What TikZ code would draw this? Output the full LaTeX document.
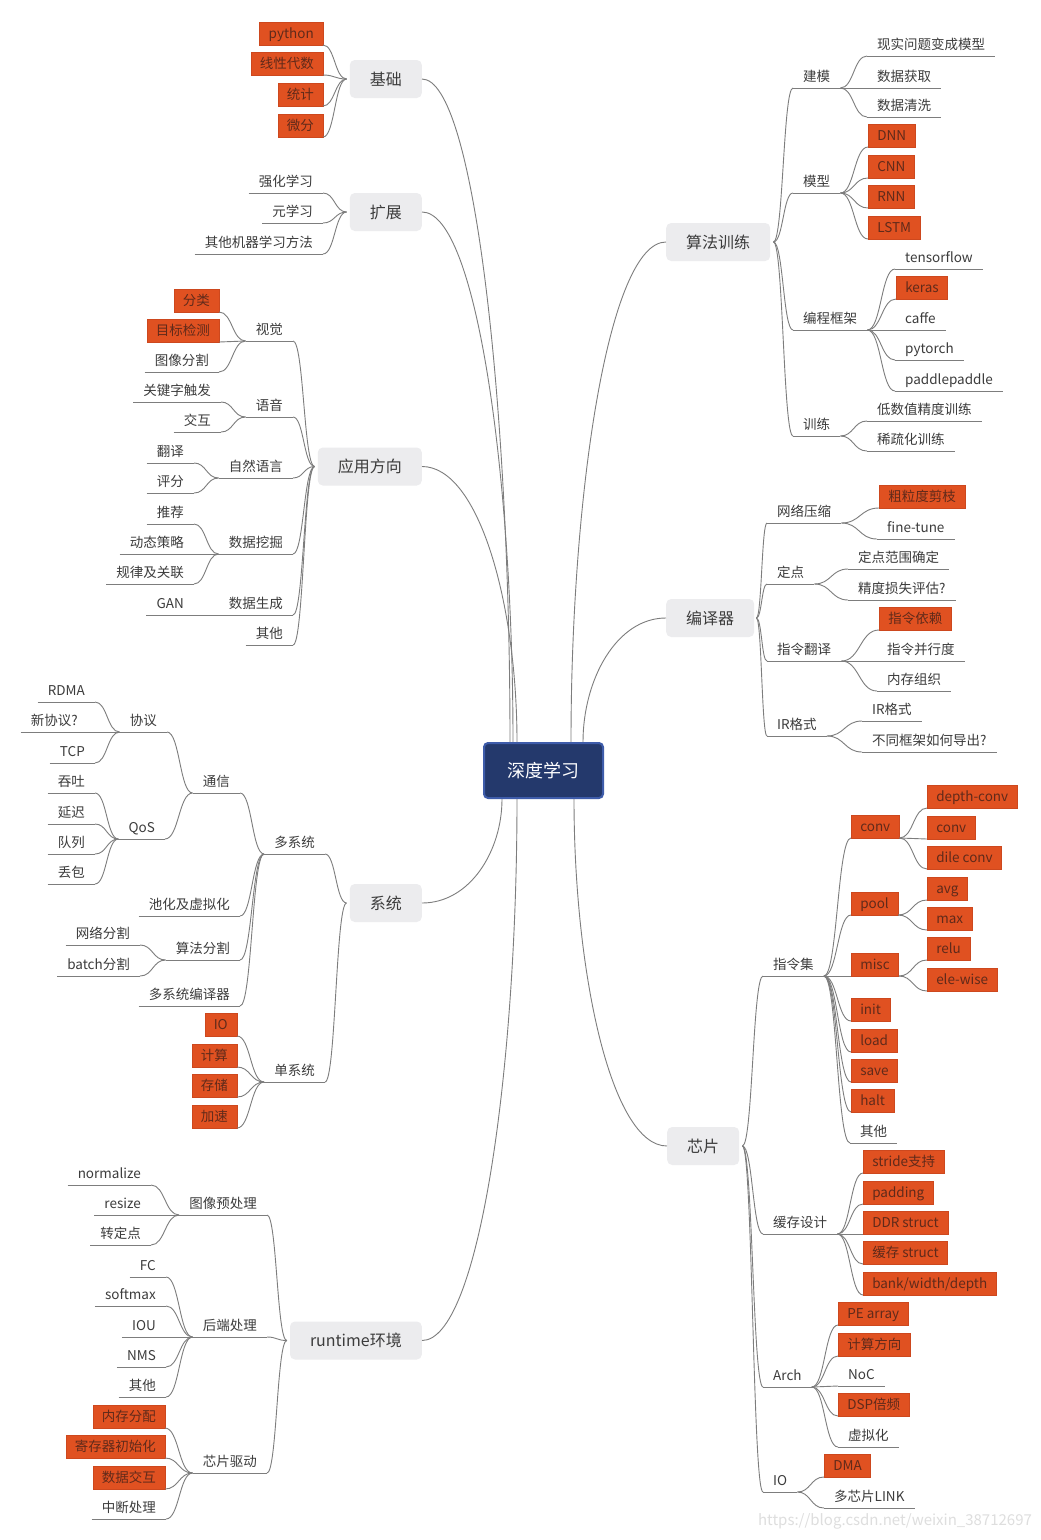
\documentclass[tikz,border=0pt]{standalone}
\usepackage{fontspec}
\setmainfont{Noto Sans CJK SC}
\usetikzlibrary{%
  calc,% wg. let in to path
  positioning%
}
\definecolor{linecol}{RGB}{125,125,125}
\definecolor{labeltext}{RGB}{60,60,60}
\definecolor{topicfill}{RGB}{236,236,238}
\definecolor{rootfill}{RGB}{36,57,108}
\definecolor{rootedge}{RGB}{62,92,170}
\definecolor{hotfill}{RGB}{224,81,33}
\definecolor{hotedge}{RGB}{205,72,30}
\definecolor{hottext}{RGB}{96,42,26}
\definecolor{markgray}{RGB}{222,222,222}

\begin{document}
\begin{tikzpicture}[x=1pt,y=-1pt,root/.style={
	rectangle,rounded corners=4pt,
	line width=2pt,draw=rootedge,fill=rootfill,
	minimum width=119pt,minimum height=55pt,
	text height=14pt,text depth=1pt,
	text=white,font=\fontsize{18}{20}\selectfont
	},topic/.style={
	rectangle,rounded corners=5pt,
	fill=topicfill,inner xsep=20pt,minimum height=38pt,
	text height=13pt,text depth=1pt,
	text=labeltext,font=\fontsize{16}{18}\selectfont
	},leaf/.style={
	inner xsep=10pt,inner ysep=4.5pt,
	text height=10pt,text depth=2pt,
	text=labeltext,font=\fontsize{13.5}{15}\selectfont,
	append after command={(\tikzlastnode.south west) edge[draw=linecol,line width=0.9pt] (\tikzlastnode.south east)}
	},hot/.style={
	rectangle,draw=hotedge,line width=0.5pt,fill=hotfill,
	inner xsep=9pt,inner ysep=0pt,minimum height=23pt,
	text height=11pt,text depth=1pt,
	text=hottext,font=\fontsize{13.5}{15}\selectfont
	},lft/.style={anchor=south east
	},rgt/.style={anchor=south west
	},wmark/.style={text=markgray,font=\fontsize{15}{17}\selectfont
	},link/.style={
	draw=linecol,line width=0.9pt,
	to path={let \p1=(\tikztostart),\p2=(\tikztotarget) in
	.. controls (\x1/2+\x2/2,\y1) and (\x1/2+\x2/2,\y2) .. (\tikztotarget)}
	},trunk/.style={
	draw=linecol,line width=0.9pt,
	to path={let \p1=(\tikztostart),\p2=(\tikztotarget) in
	.. controls (0.4*\x1+0.6*\x2,\y1) and (\x2,\y1/2+\y2/2) .. (\tikztotarget)}
	}]

\fill[white] (0,0) rectangle (1041,1540);
\useasboundingbox (0,0) rectangle (1041,1540);

% root and main topics
\node[root] (dl) at (543.5,770.5) {深度学习};
\node[topic,anchor=east] (jc) at (422,79) {基础};
\node[topic,anchor=east] (kz) at (422,212) {扩展};
\node[topic,anchor=east] (yy) at (422,466.5) {应用方向};
\node[topic,anchor=east] (xt) at (422,903) {系统};
\node[topic,anchor=east] (rt) at (422,1340.5) {runtime环境};
\node[topic,anchor=west] (sf) at (666,242) {算法训练};
\node[topic,anchor=west] (by) at (666,618) {编译器};
\node[topic,anchor=west] (xp) at (667,1146) {芯片};

\coordinate (jcj) at ([xshift=-3pt]jc.west);
\coordinate (kzj) at ([xshift=-3pt]kz.west);
\coordinate (yyj) at ([xshift=-3pt]yy.west);
\coordinate (xtj) at ([xshift=-3pt]xt.west);
\coordinate (rtj) at ([xshift=-3pt]rt.west);
\coordinate (sfj) at ([xshift=3pt]sf.east);
\coordinate (byj) at ([xshift=2pt]by.east);
\coordinate (xpj) at ([xshift=3pt]xp.east);

% 基础 / 扩展
\node[hot,lft] (py) at (323,45) {python};
\node[hot,lft] (xxds) at (323,75) {线性代数};
\node[hot,lft] (tj) at (323,106) {统计};
\node[hot,lft] (wf) at (323,137) {微分};
\node[leaf,lft] (qhxx) at (323,193) {强化学习};
\node[leaf,lft] (yxx) at (323,223) {元学习};
\node[leaf,lft] (qtjq) at (323,254) {其他机器学习方法};

% 应用方向
\node[leaf,lft] (sj) at (293,341) {视觉};
\node[leaf,lft] (yyin) at (293,417) {语音};
\node[leaf,lft] (zryy) at (293,478) {自然语言};
\node[leaf,lft] (sjwj) at (293,554) {数据挖掘};
\node[leaf,lft] (sjsc) at (293,615) {数据生成};
\node[leaf,lft] (qt1) at (293,645) {其他};
\node[hot,lft] (fl) at (219,312) {分类};
\node[hot,lft] (mbjc) at (219,342) {目标检测};
\node[leaf,lft] (txfg) at (219,372) {图像分割};
\node[leaf,lft] (gjz) at (221,402) {关键字触发};
\node[leaf,lft] (jh) at (221,432) {交互};
\node[leaf,lft] (fyi) at (194,463) {翻译};
\node[leaf,lft] (pf) at (194,493) {评分};
\node[leaf,lft] (tjian) at (194,524) {推荐};
\node[leaf,lft] (dtcl) at (194,554) {动态策略};
\node[leaf,lft] (gljgl) at (194,584) {规律及关联};
\node[leaf,lft] (gan) at (194,615) {GAN};

% 系统
\node[leaf,lft] (dxt) at (325,854) {多系统};
\node[leaf,lft] (danxt) at (325,1082) {单系统};
\node[leaf,lft] (tx) at (240,793) {通信};
\node[leaf,lft] (chxn) at (240,916) {池化及虚拟化};
\node[leaf,lft] (sffg) at (240,960) {算法分割};
\node[leaf,lft] (dxtby) at (240,1006) {多系统编译器};
\node[leaf,lft] (xy) at (167,732) {协议};
\node[leaf,lft] (qos) at (165,839) {QoS};
\node[leaf,lft] (rdma) at (95,702) {RDMA};
\node[leaf,lft] (xxy) at (88,732) {新协议?};
\node[leaf,lft] (tcp) at (95,763) {TCP};
\node[leaf,lft] (tt) at (95,793) {吞吐};
\node[leaf,lft] (yc) at (95,824) {延迟};
\node[leaf,lft] (dlie) at (95,854) {队列};
\node[leaf,lft] (db) at (95,884) {丢包};
\node[leaf,lft] (wlfg) at (140,945) {网络分割};
\node[leaf,lft] (bfg) at (140,976) {batch分割};
\node[hot,lft] (dio) at (237,1036) {IO};
\node[hot,lft] (djs) at (237,1067) {计算};
\node[hot,lft] (dcc) at (237,1097) {存储};
\node[hot,lft] (djsu) at (237,1128) {加速};

% runtime环境
\node[leaf,lft] (txycl) at (267,1215) {图像预处理};
\node[leaf,lft] (hdcl) at (267,1337) {后端处理};
\node[leaf,lft] (xpqd) at (267,1473) {芯片驱动};
\node[leaf,lft] (norm) at (151,1185) {normalize};
\node[leaf,lft] (rsz) at (151,1215) {resize};
\node[leaf,lft] (zdd) at (151,1245) {转定点};
\node[leaf,lft] (fc) at (166,1277) {FC};
\node[leaf,lft] (smax) at (166,1306) {softmax};
\node[leaf,lft] (iou) at (166,1337) {IOU};
\node[leaf,lft] (nms) at (166,1367) {NMS};
\node[leaf,lft] (qt2) at (166,1397) {其他};
\node[hot,lft] (ncfp) at (165,1428) {内存分配};
\node[hot,lft] (jcq) at (165,1458) {寄存器初始化};
\node[hot,lft] (sjjh) at (165,1489) {数据交互};
\node[leaf,lft] (zdcl) at (166,1519) {中断处理};

% 算法训练
\node[leaf,rgt] (jm) at (793,88) {建模};
\node[leaf,rgt] (mx) at (793,193) {模型};
\node[leaf,rgt] (bckj) at (793,330) {编程框架};
\node[leaf,rgt] (xl) at (793,436) {训练};
\node[leaf,rgt] (xswt) at (867,56) {现实问题变成模型};
\node[leaf,rgt] (sjhq) at (867,88) {数据获取};
\node[leaf,rgt] (sjqx) at (867,117) {数据清洗};
\node[hot,rgt] (dnn) at (868,147) {DNN};
\node[hot,rgt] (cnn) at (868,178) {CNN};
\node[hot,rgt] (rnn) at (868,208) {RNN};
\node[hot,rgt] (lstm) at (868,239) {LSTM};
\node[leaf,rgt] (tf) at (895,269) {tensorflow};
\node[hot,rgt] (keras) at (896,299) {keras};
\node[leaf,rgt] (caffe) at (895,330) {caffe};
\node[leaf,rgt] (torch) at (895,360) {pytorch};
\node[leaf,rgt] (paddle) at (895,391) {paddlepaddle};
\node[leaf,rgt] (dsz) at (867,421) {低数值精度训练};
\node[leaf,rgt] (xsh) at (867,451) {稀疏化训练};

% 编译器
\node[leaf,rgt] (wlys) at (767,523) {网络压缩};
\node[leaf,rgt] (dd) at (767,584) {定点};
\node[leaf,rgt] (zlfy) at (767,661) {指令翻译};
\node[leaf,rgt] (ir) at (767,736) {IR格式};
\node[hot,rgt] (clj) at (879,508) {粗粒度剪枝};
\node[leaf,rgt] (ft) at (877,539) {fine-tune};
\node[leaf,rgt] (ddfw) at (848,569) {定点范围确定};
\node[leaf,rgt] (jdss) at (848,600) {精度损失评估?};
\node[hot,rgt] (zlyl) at (879,630) {指令依赖};
\node[leaf,rgt] (zlbx) at (877,661) {指令并行度};
\node[leaf,rgt] (nczz) at (877,691) {内存组织};
\node[leaf,rgt] (irgs) at (862,721) {IR格式};
\node[leaf,rgt] (btkj) at (862,752) {不同框架如何导出?};

% 芯片
\node[leaf,rgt] (zlj) at (763,976) {指令集};
\node[leaf,rgt] (hcsj) at (763,1234) {缓存设计};
\node[leaf,rgt] (arch) at (763,1387) {Arch};
\node[leaf,rgt] (xio) at (763,1492) {IO};
\node[hot,rgt] (conv) at (851,838) {conv};
\node[hot,rgt] (pool) at (851,915) {pool};
\node[hot,rgt] (misc) at (851,976) {misc};
\node[hot,rgt] (init) at (851,1021) {init};
\node[hot,rgt] (load) at (851,1052) {load};
\node[hot,rgt] (save) at (851,1082) {save};
\node[hot,rgt] (halt) at (851,1112) {halt};
\node[leaf,rgt] (qt3) at (850,1143) {其他};
\node[hot,rgt] (dwconv) at (927,808) {depth-conv};
\node[hot,rgt] (conv2) at (927,839) {conv};
\node[hot,rgt] (dconv) at (927,869) {dile conv};
\node[hot,rgt] (avg) at (927,900) {avg};
\node[hot,rgt] (pmax) at (927,930) {max};
\node[hot,rgt] (relu) at (927,960) {relu};
\node[hot,rgt] (elew) at (927,991) {ele-wise};
\node[hot,rgt] (stride) at (863,1173) {stride支持};
\node[hot,rgt] (pad) at (863,1204) {padding};
\node[hot,rgt] (ddr) at (863,1234) {DDR struct};
\node[hot,rgt] (hcst) at (863,1264) {缓存 struct};
\node[hot,rgt] (bank) at (863,1295) {bank/width/depth};
\node[hot,rgt] (pe) at (838,1325) {PE array};
\node[hot,rgt] (jsfx) at (838,1356) {计算方向};
\node[leaf,rgt] (noc) at (838,1386) {NoC};
\node[hot,rgt] (dsp) at (838,1416) {DSP倍频};
\node[leaf,rgt] (xnh) at (838,1447) {虚拟化};
\node[hot,rgt] (dma) at (824,1477) {DMA};
\node[leaf,rgt] (lnk) at (824,1508) {多芯片LINK};

\node[wmark] (wm) at (895,1521) {https://blog.csdn.net/weixin\_38712697};

% root to topics
\path	(jc.east) edge[trunk] ([xshift=-33.5pt]dl.north)
	(kz.east) edge[trunk] ([xshift=-30.5pt]dl.north)
	(yy.east) edge[trunk] ([xshift=-26.5pt]dl.north)
	(xt.east) edge[trunk] ([xshift=-41.5pt]dl.south)
	(rt.east) edge[trunk] ([xshift=-26.5pt]dl.south)
	(sf.west) edge[trunk] ([xshift=27.5pt]dl.north)
	(by.west) edge[trunk] ([xshift=39.5pt]dl.north)
	(xp.west) edge[trunk] ([xshift=30.5pt]dl.south);

% left side
\path	(py.south east) edge[link] (jcj)
	(xxds.south east) edge[link] (jcj)
	(tj.south east) edge[link] (jcj)
	(wf.south east) edge[link] (jcj)
	(qhxx.south east) edge[link] (kzj)
	(yxx.south east) edge[link] (kzj)
	(qtjq.south east) edge[link] (kzj);
\path	(sj.south east) edge[link] (yyj)
	(yyin.south east) edge[link] (yyj)
	(zryy.south east) edge[link] (yyj)
	(sjwj.south east) edge[link] (yyj)
	(sjsc.south east) edge[link] (yyj)
	(qt1.south east) edge[link] (yyj)
	(fl.south east) edge[link] (sj.south west)
	(mbjc.south east) edge[link] (sj.south west)
	(txfg.south east) edge[link] (sj.south west)
	(gjz.south east) edge[link] (yyin.south west)
	(jh.south east) edge[link] (yyin.south west)
	(fyi.south east) edge[link] (zryy.south west)
	(pf.south east) edge[link] (zryy.south west)
	(tjian.south east) edge[link] (sjwj.south west)
	(dtcl.south east) edge[link] (sjwj.south west)
	(gljgl.south east) edge[link] (sjwj.south west)
	(gan.south east) edge[link] (sjsc.south west);
\path	(dxt.south east) edge[link] (xtj)
	(danxt.south east) edge[link] (xtj)
	(tx.south east) edge[link] (dxt.south west)
	(chxn.south east) edge[link] (dxt.south west)
	(sffg.south east) edge[link] (dxt.south west)
	(dxtby.south east) edge[link] (dxt.south west)
	(xy.south east) edge[link] (tx.south west)
	(qos.south east) edge[link] (tx.south west)
	(rdma.south east) edge[link] (xy.south west)
	(xxy.south east) edge[link] (xy.south west)
	(tcp.south east) edge[link] (xy.south west)
	(tt.south east) edge[link] (qos.south west)
	(yc.south east) edge[link] (qos.south west)
	(dlie.south east) edge[link] (qos.south west)
	(db.south east) edge[link] (qos.south west)
	(wlfg.south east) edge[link] (sffg.south west)
	(bfg.south east) edge[link] (sffg.south west)
	(dio.south east) edge[link] (danxt.south west)
	(djs.south east) edge[link] (danxt.south west)
	(dcc.south east) edge[link] (danxt.south west)
	(djsu.south east) edge[link] (danxt.south west);
\path	(txycl.south east) edge[link] (rtj)
	(hdcl.south east) edge[link] (rtj)
	(xpqd.south east) edge[link] (rtj)
	(norm.south east) edge[link] (txycl.south west)
	(rsz.south east) edge[link] (txycl.south west)
	(zdd.south east) edge[link] (txycl.south west)
	(fc.south east) edge[link] (hdcl.south west)
	(smax.south east) edge[link] (hdcl.south west)
	(iou.south east) edge[link] (hdcl.south west)
	(nms.south east) edge[link] (hdcl.south west)
	(qt2.south east) edge[link] (hdcl.south west)
	(ncfp.south east) edge[link] (xpqd.south west)
	(jcq.south east) edge[link] (xpqd.south west)
	(sjjh.south east) edge[link] (xpqd.south west)
	(zdcl.south east) edge[link] (xpqd.south west);

% right side
\path	(sfj) edge[link] (jm.south west)
	(sfj) edge[link] (mx.south west)
	(sfj) edge[link] (bckj.south west)
	(sfj) edge[link] (xl.south west)
	(jm.south east) edge[link] (xswt.south west)
	(jm.south east) edge[link] (sjhq.south west)
	(jm.south east) edge[link] (sjqx.south west)
	(mx.south east) edge[link] (dnn.south west)
	(mx.south east) edge[link] (cnn.south west)
	(mx.south east) edge[link] (rnn.south west)
	(mx.south east) edge[link] (lstm.south west)
	(bckj.south east) edge[link] (tf.south west)
	(bckj.south east) edge[link] (keras.south west)
	(bckj.south east) edge[link] (caffe.south west)
	(bckj.south east) edge[link] (torch.south west)
	(bckj.south east) edge[link] (paddle.south west)
	(xl.south east) edge[link] (dsz.south west)
	(xl.south east) edge[link] (xsh.south west);
\path	(byj) edge[link] (wlys.south west)
	(byj) edge[link] (dd.south west)
	(byj) edge[link] (zlfy.south west)
	(byj) edge[link] (ir.south west)
	(wlys.south east) edge[link] (clj.south west)
	(wlys.south east) edge[link] (ft.south west)
	(dd.south east) edge[link] (ddfw.south west)
	(dd.south east) edge[link] (jdss.south west)
	(zlfy.south east) edge[link] (zlyl.south west)
	(zlfy.south east) edge[link] (zlbx.south west)
	(zlfy.south east) edge[link] (nczz.south west)
	(ir.south east) edge[link] (irgs.south west)
	(ir.south east) edge[link] (btkj.south west);
\path	(xpj) edge[link] (zlj.south west)
	(xpj) edge[link] (hcsj.south west)
	(xpj) edge[link] (arch.south west)
	(xpj) edge[link] (xio.south west)
	(zlj.south east) edge[link] (conv.south west)
	(zlj.south east) edge[link] (pool.south west)
	(zlj.south east) edge[link] (misc.south west)
	(zlj.south east) edge[link] (init.south west)
	(zlj.south east) edge[link] (load.south west)
	(zlj.south east) edge[link] (save.south west)
	(zlj.south east) edge[link] (halt.south west)
	(zlj.south east) edge[link] (qt3.south west)
	(conv.south east) edge[link] (dwconv.south west)
	(conv.south east) edge[link] (conv2.south west)
	(conv.south east) edge[link] (dconv.south west)
	(pool.south east) edge[link] (avg.south west)
	(pool.south east) edge[link] (pmax.south west)
	(misc.south east) edge[link] (relu.south west)
	(misc.south east) edge[link] (elew.south west)
	(hcsj.south east) edge[link] (stride.south west)
	(hcsj.south east) edge[link] (pad.south west)
	(hcsj.south east) edge[link] (ddr.south west)
	(hcsj.south east) edge[link] (hcst.south west)
	(hcsj.south east) edge[link] (bank.south west)
	(arch.south east) edge[link] (pe.south west)
	(arch.south east) edge[link] (jsfx.south west)
	(arch.south east) edge[link] (noc.south west)
	(arch.south east) edge[link] (dsp.south west)
	(arch.south east) edge[link] (xnh.south west)
	(xio.south east) edge[link] (dma.south west)
	(xio.south east) edge[link] (lnk.south west);

\end{tikzpicture}
\end{document}
